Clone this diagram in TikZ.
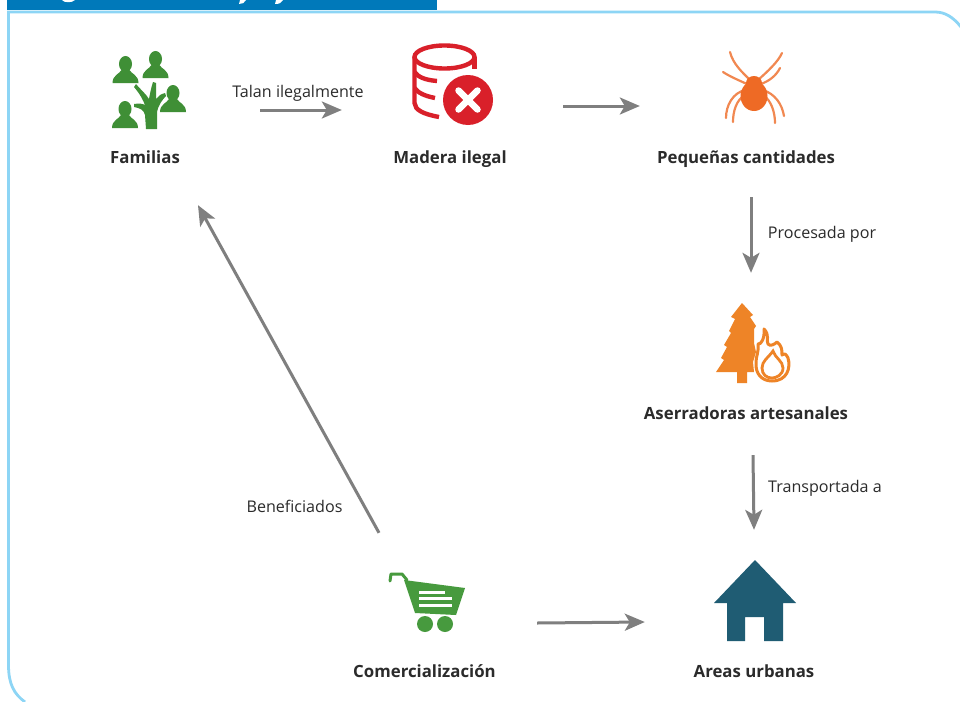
\documentclass[tikz,border=0pt]{standalone}
\usepackage{fontspec}
\setmainfont{Open Sans}
\usetikzlibrary{arrows.meta,calc}
\definecolor{bannerblue}{HTML}{0079BA}
\definecolor{panelblue}{HTML}{8DD5F5}
\definecolor{arrowgrey}{HTML}{7F7F7F}
\definecolor{famgreen}{HTML}{3F8F36}
\definecolor{cartgreen}{HTML}{479A3E}
\definecolor{dbred}{HTML}{D9202A}
\definecolor{spiderorange}{HTML}{EE6A25}
\definecolor{treeorange}{HTML}{EE8427}
\definecolor{houseblue}{HTML}{1F5C73}
\definecolor{txt}{HTML}{2B2B2B}
\tikzset{
  x=1pt,y=-1pt,
  title label/.style={font=\fontsize{16.8}{18}\selectfont\bfseries,text=txt,inner sep=0pt,text height=12pt,text depth=0pt},
  edge label/.style={font=\fontsize{16.1}{18}\selectfont,text=txt,inner sep=0pt,text height=12pt,text depth=0pt},
  icon box/.style={inner sep=0pt,minimum width=#1,minimum height=90pt},
  flow/.style={draw=arrowgrey,line width=3pt,-{Stealth[length=20pt,width=17pt,inset=5pt]}},
  leg/.style={draw=spiderorange!80,line width=2.2pt,line cap=round},
  pics/person/.style={code={
    \fill[famgreen] (0,-7) circle[x radius=6.5,y radius=8];
    \fill[famgreen] (-13,12) .. controls (-13,4) and (-6,3) .. (-4,-1) -- (4,-1) .. controls (6,3) and (13,4) .. (13,12) -- cycle;
  }}
}
\begin{document}
\begin{tikzpicture}
\useasboundingbox (0,0) rectangle (960,701);
\fill[white] (0,0) rectangle (960,701);
% banner and panel
\fill[bannerblue] (7,0) rectangle (437,10);
\fill[white] (62,0) .. controls (64,3) and (72,3) .. (75,0) -- cycle;
\fill[white] (240,0) -- (246,0) .. controls (245,3) and (242,4) .. (239,4) -- cycle;
\fill[white] (276,0) -- (283,0) .. controls (282,3) and (279,4) .. (275,4) -- cycle;
\draw[panelblue,line width=2.8pt] (25,702) .. controls (14,694) and (8.5,684) .. (8.5,665) -- (8.5,12) -- (935,12) .. controls (945,12) and (953,17) .. (961,27);

% icon holders and labels
\node[icon box=226pt] (famicon) at (147,93) {};
\node[icon box=146pt] (madicon) at (452,93) {};
\node[icon box=160pt] (spidericon) at (752,93) {};
\node[icon box=100pt] (treeicon) at (751,340) {};
\node[icon box=100pt] (carticon) at (427,597) {};
\node[icon box=100pt] (houseicon) at (755,597) {};
\node[title label] (familias) at (145,157) {Familias};
\node[title label] (madera) at (450,157) {Madera ilegal};
\node[title label] (pequenas) at (746,157) {Pequeñas cantidades};
\node[title label] (aserr) at (746,413) {Aserradoras artesanales};
\node[title label] (comer) at (424.5,671) {Comercialización};
\node[title label] (areas) at (754,671) {Areas urbanas};
\node[edge label] (talan) at (298,91) {Talan ilegalmente};
\node[edge label] (proc) at (822,232) {Procesada por};
\node[edge label] (transp) at (825,486) {Transportada a};
\node[edge label] (benef) at (294.5,506) {Beneficiados};

% connectors
\draw[flow] ([yshift=-17pt,xshift=0pt]famicon.east) -- ([yshift=-17pt,xshift=-37pt]madicon.west);
\draw[flow] ([yshift=-13pt,xshift=38pt]madicon.east) -- ([yshift=-13pt,xshift=-32pt]spidericon.west);
\draw[flow] ($(pequenas.south)+(5,34)$) -- ($(treeicon.north)+(0,-22)$);
\draw[flow] ($(aserr.south)+(7,36)$) -- ($(houseicon.north)+(-1,-22)$);
\draw[flow] ([yshift=-26pt,xshift=60pt]carticon.east) -- ([yshift=-25pt,xshift=-60pt]houseicon.west);
\draw[flow] ($(carticon.north)+(-48,-19)$) -- ($(familias.south)+(53,42)$);

% Familias icon
\begin{scope}
\fill[famgreen] (146,129) -- (145,115) .. controls (144,110) and (140,108) .. (134,107)
 -- (134,104) .. controls (140,103) and (143,104) .. (145,105) .. controls (143,100) and (140,94) .. (134,87)
 -- (136,84) .. controls (141,90) and (146,94) .. (149,99) .. controls (150,94) and (151,88) .. (153,82)
 -- (156,83) .. controls (156,90) and (156,94) .. (156,99) .. controls (158,96) and (161,94) .. (165,93)
 -- (166,96) .. controls (162,100) and (158,106) .. (157,112) -- (157,129) -- cycle;
\pic at (125.5,71) {person};
\pic at (155.5,66) {person};
\pic at (173,100) {person};
\pic at (125,116) {person};
\end{scope}

% Database icon
\begin{scope}
\draw[dbred,line width=4.4pt] (444.5,57) ellipse[x radius=30,y radius=11.5];
\draw[dbred,line width=4.4pt] (414.5,57) -- (414.5,103) .. controls (415,110) and (423,114) .. (439,117);
\draw[dbred,line width=4.4pt] (414.5,72) .. controls (418,77) and (425,80) .. (437,81);
\draw[dbred,line width=4.4pt] (414.5,88) .. controls (418,93) and (425,96) .. (435,98);
\draw[dbred,line width=4.4pt] (474.5,57) -- (474.5,69);
\fill[white] (468,100) circle[radius=28];
\fill[dbred] (468,100) circle[radius=25];
\draw[white,line width=6.5pt,line cap=round] (458.5,90.5) -- (477.5,109.5) (477.5,90.5) -- (458.5,109.5);
\end{scope}

% Spider icon
\begin{scope}
\draw[leg] (750,80) .. controls (742,72) and (733,64) .. (730,52);
\draw[leg] (758,80) .. controls (767,72) and (778,62) .. (782,53);
\draw[leg] (747,84) .. controls (738,80) and (729,76) .. (723,72);
\draw[leg] (761,84) .. controls (769,81) and (776,76) .. (780,68);
\draw[leg] (745,90) .. controls (733,93) and (726,105) .. (726,118);
\draw[leg] (763,90) .. controls (775,94) and (782,104) .. (784,116);
\draw[leg] (745,95) .. controls (736,100) and (733,112) .. (733,122);
\draw[leg] (763,95) .. controls (771,100) and (775,112) .. (775,123);
\fill[spiderorange] (754,96) ellipse[x radius=13.5,y radius=15];
\fill[spiderorange] (754,83) ellipse[x radius=8,y radius=7];
\end{scope}

% Tree with flame
\begin{scope}
\fill[treeorange] (742,303) -- (753,315) -- (750,317) -- (756,326) -- (754,329) -- (754,343) -- (756,352) -- (753,362) -- (754,372) -- (747,372) -- (747,383) -- (737,383) -- (737,372) -- (716,372) -- (724,360) -- (721,358) -- (727,347) -- (724,345) -- (731,333) -- (729,331) -- (735,319) -- (731,317) -- cycle;
\draw[treeorange,line width=3pt,line join=round] (764,329) .. controls (770,335) and (766,341) .. (768,344) .. controls (770,347) and (775,344) .. (777,342) .. controls (782,346) and (782,350) .. (782,355) .. controls (785,353) and (786,354) .. (788,358) .. controls (791,368) and (787,381) .. (772,381) .. controls (762,381) and (755,374) .. (756,362) .. controls (756,356) and (759,352) .. (758,344) .. controls (761,345) and (765,338) .. (764,329) -- cycle;
\draw[treeorange,line width=2.8pt] (762,368) .. controls (762,361) and (768,358) .. (773,351) .. controls (775,358) and (783,361) .. (783,368) .. controls (783,375) and (776,378) .. (772,378) .. controls (767,378) and (762,375) .. (762,368) -- cycle;
\end{scope}

% Cart icon
\begin{scope}
\draw[cartgreen,line width=3pt,line cap=round,line join=round] (390,581) -- (391,574) -- (402,574) -- (407,580);
\fill[cartgreen] (404,580) -- (465,588) -- (456,615) -- (415,613) -- cycle;
\fill[white] (419,591) rectangle (445,593.5);
\fill[white] (419,597) rectangle (452,600);
\fill[white] (419,604) rectangle (452,607);
\fill[cartgreen] (425,624) circle[radius=8];
\fill[cartgreen] (445,624) circle[radius=8];
\end{scope}

% House icon
\fill[houseblue] (755,560) -- (796,603) -- (783,603) -- (783,641) -- (764,641) -- (764,617) -- (745,617) -- (745,641) -- (727,641) -- (727,603) -- (714,603) -- cycle;
\end{tikzpicture}
\end{document}
